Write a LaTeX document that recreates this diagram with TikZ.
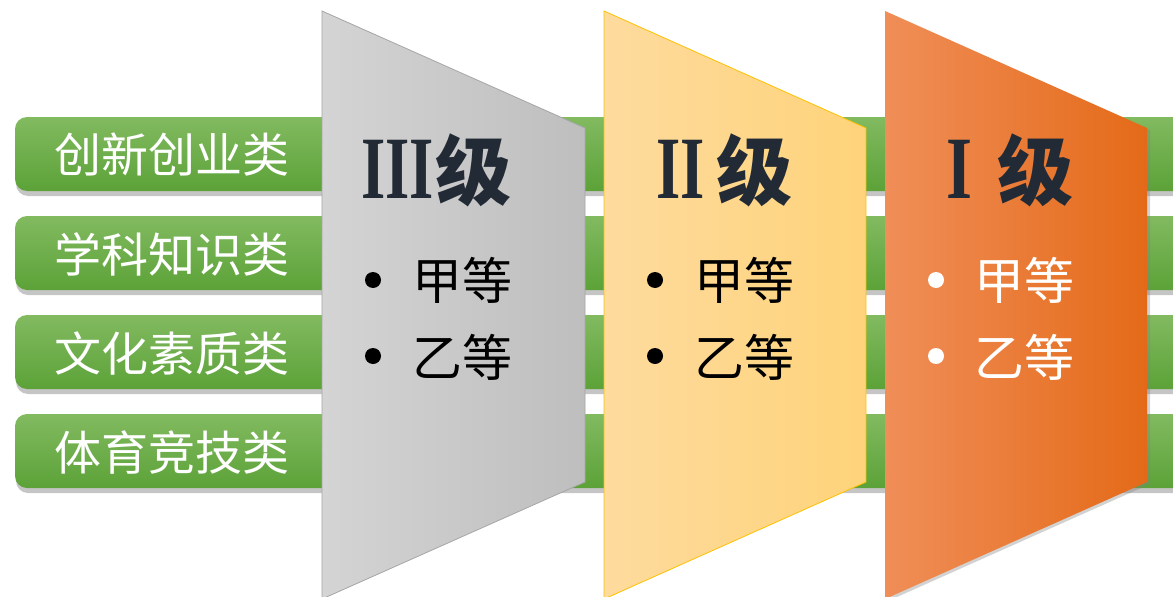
\documentclass[tikz,border=0pt]{standalone}
\usepackage{fontspec}
\setmainfont{Liberation Serif}
\newfontfamily\cjk{Noto Sans CJK SC}
\usetikzlibrary{shadows,shadings}
\definecolor{barTop}{HTML}{82BA60}
\definecolor{barBot}{HTML}{5CA238}
\definecolor{grayL}{HTML}{D4D4D4}
\definecolor{grayR}{HTML}{BEBEBE}
\definecolor{grayB}{HTML}{A6A6A6}
\definecolor{yelL}{HTML}{FEDB9E}
\definecolor{yelR}{HTML}{FED37A}
\definecolor{yelB}{HTML}{FFC000}
\definecolor{orgL}{HTML}{F08E58}
\definecolor{orgR}{HTML}{E46A18}
\definecolor{navy}{HTML}{222A35}
\begin{document}
\begin{tikzpicture}[x=1pt,y=-1pt,
  bar/.style={rounded corners=12pt, top color=barTop, bottom color=barBot,
    drop shadow={opacity=0.45, shadow xshift=1pt, shadow yshift=-5pt}},
  lbl/.style={inner sep=0pt, text=white, font=\cjk\fontsize{47}{47}\selectfont},
  num/.style={inner sep=0pt, anchor=base west, text=navy, font=\bfseries\fontsize{89}{89}\selectfont},
  ji/.style={inner sep=0pt, text=navy, font=\cjk\bfseries\fontsize{76}{76}\selectfont},
  item/.style={inner sep=0pt, anchor=west, font=\cjk\fontsize{50}{50}\selectfont},
  dot/.style={circle, inner sep=0pt, minimum size=16pt},
  trap/.style={line width=0.8pt}
]
\clip (0,0) rectangle (1173,597);
\fill[white] (0,0) rectangle (1173,597);
% green bars
\path[bar] (15,117) rectangle (1200,191);
\path[bar] (15,216) rectangle (1200,290);
\path[bar] (15,315) rectangle (1200,389);
\path[bar] (15,414) rectangle (1200,488);
\node[lbl] (c1) at (172,155) {创新创业类};
\node[lbl] (c2) at (172,254) {学科知识类};
\node[lbl] (c3) at (172,353) {文化素质类};
\node[lbl] (c4) at (172,452) {体育竞技类};
% trapezoids
\path[trap, left color=grayL, right color=grayR, draw=grayB]
  (322,11) -- (585,128) -- (585,482) -- (322,599) -- cycle;
\path[trap, left color=yelL, right color=yelR, draw=yelB]
  (604,11) -- (866,128) -- (866,482) -- (604,599) -- cycle;
\path[trap, left color=orgL, right color=orgR,
  drop shadow={opacity=0.35, shadow xshift=3pt, shadow yshift=-2pt}]
  (885,11) -- (1147,128) -- (1147,482) -- (885,599) -- cycle;
% headers
\node[num] (n3) at (361,198) {\scalebox{0.7}[1]{III}};
\node[ji] (j3) at (473,170) {级};
\node[num] (n2) at (656,198) {\scalebox{0.7}[1]{II}};
\node[ji] (j2) at (754,170) {级};
\node[num] (n1) at (946,198) {\scalebox{0.75}[1]{I}};
\node[ji] (j1) at (1035,170) {级};
% items
\node[dot, fill=black] (b3a) at (373,280) {};
\node[dot, fill=black] (b3b) at (373,356) {};
\node[item] (t3a) at (412,280) {甲等};
\node[item] (t3b) at (412,357) {乙等};
\node[dot, fill=black] (b2a) at (655,280) {};
\node[dot, fill=black] (b2b) at (655,356) {};
\node[item] (t2a) at (694,280) {甲等};
\node[item] (t2b) at (694,357) {乙等};
\node[dot, fill=white] (b1a) at (936,280) {};
\node[dot, fill=white] (b1b) at (936,356) {};
\node[item, text=white] (t1a) at (974,280) {甲等};
\node[item, text=white] (t1b) at (974,357) {乙等};
\end{tikzpicture}
\end{document}
